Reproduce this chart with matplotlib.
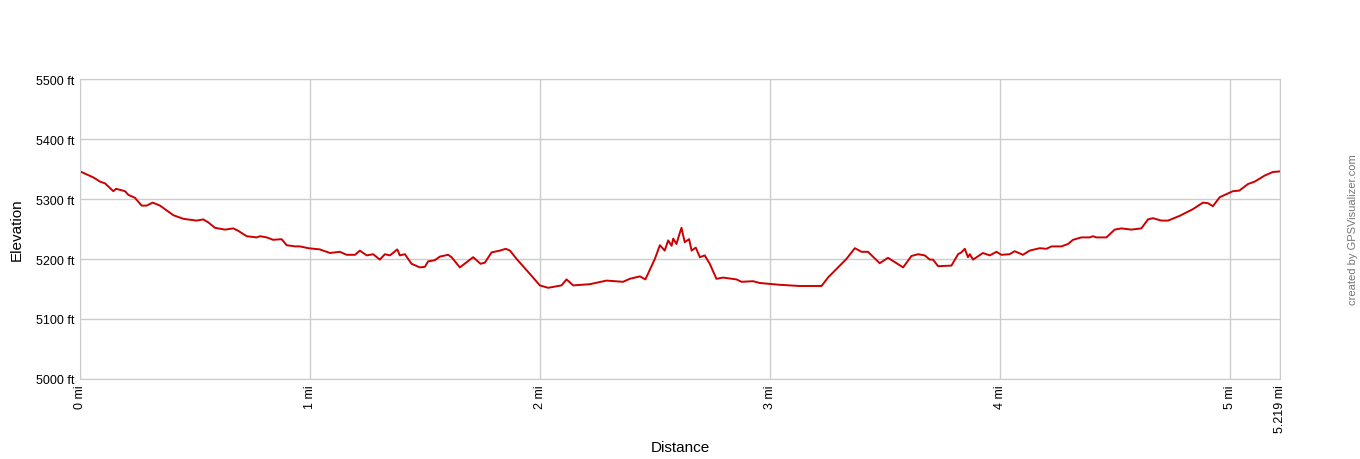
import matplotlib
matplotlib.use('Agg')
import matplotlib.pyplot as plt

plt.rcParams['font.family'] = ['Liberation Sans', 'DejaVu Sans']

# distance (mi) and elevation (ft)
dist = [0.000, 0.058, 0.087, 0.109, 0.145, 0.157, 0.196, 0.210, 0.239, 0.268,
        0.290, 0.316, 0.348, 0.406, 0.449, 0.507, 0.536, 0.558, 0.587, 0.630,
        0.667, 0.688, 0.725, 0.768, 0.783, 0.812, 0.840, 0.877, 0.899, 0.935,
        0.957, 0.993, 1.043, 1.087, 1.130, 1.160, 1.196, 1.217, 1.247, 1.275,
        1.304, 1.326, 1.348, 1.380, 1.391, 1.413, 1.442, 1.478, 1.500, 1.514,
        1.543, 1.565, 1.601, 1.616, 1.652, 1.710, 1.742, 1.761, 1.790, 1.826,
        1.852, 1.870, 1.899, 1.957, 2.000, 2.036, 2.094, 2.116, 2.145, 2.217,
        2.290, 2.362, 2.391, 2.435, 2.459, 2.500, 2.522, 2.543, 2.558, 2.573,
        2.580, 2.594, 2.609, 2.616, 2.630, 2.649, 2.660, 2.678, 2.696, 2.717,
        2.739, 2.753, 2.768, 2.797, 2.855, 2.877, 2.927, 2.957, 3.043, 3.130,
        3.225, 3.253, 3.333, 3.370, 3.399, 3.427, 3.478, 3.514, 3.580, 3.616,
        3.645, 3.674, 3.696, 3.710, 3.732, 3.790, 3.819, 3.833, 3.848, 3.862,
        3.870, 3.884, 3.927, 3.957, 3.986, 4.007, 4.043, 4.065, 4.101, 4.130,
        4.174, 4.203, 4.225, 4.268, 4.297, 4.319, 4.355, 4.391, 4.406, 4.420,
        4.464, 4.500, 4.529, 4.572, 4.616, 4.645, 4.667, 4.703, 4.732, 4.783,
        4.840, 4.884, 4.906, 4.927, 4.957, 5.014, 5.042, 5.080, 5.109, 5.152,
        5.188, 5.219]
elev = [5346, 5336, 5329, 5326, 5313, 5317, 5313, 5307, 5302, 5289,
        5289, 5294, 5289, 5273, 5267, 5264, 5266, 5261, 5252, 5249,
        5251, 5247, 5238, 5236, 5238, 5236, 5232, 5233, 5223, 5221,
        5221, 5218, 5216, 5210, 5212, 5207, 5207, 5214, 5206, 5208,
        5199, 5208, 5206, 5216, 5206, 5208, 5192, 5186, 5187, 5196,
        5198, 5204, 5207, 5203, 5186, 5203, 5192, 5194, 5211, 5214,
        5217, 5214, 5200, 5175, 5156, 5152, 5156, 5166, 5156, 5158,
        5164, 5162, 5167, 5171, 5166, 5200, 5223, 5214, 5231, 5222,
        5234, 5225, 5244, 5252, 5228, 5233, 5214, 5219, 5203, 5206,
        5192, 5180, 5167, 5169, 5166, 5162, 5163, 5160, 5157, 5155,
        5155, 5169, 5200, 5218, 5212, 5212, 5193, 5202, 5186, 5205,
        5208, 5206, 5199, 5199, 5188, 5189, 5208, 5211, 5217, 5203,
        5208, 5199, 5210, 5206, 5212, 5207, 5208, 5213, 5207, 5214,
        5218, 5217, 5221, 5221, 5225, 5232, 5236, 5236, 5238, 5236,
        5236, 5249, 5251, 5249, 5251, 5266, 5268, 5264, 5264, 5272,
        5283, 5294, 5293, 5288, 5303, 5313, 5314, 5325, 5329, 5339,
        5345, 5346]

x_ticks = [0, 1, 2, 3, 4, 5, 5.219]
x_labels = ['0 mi', '1 mi', '2 mi', '3 mi', '4 mi', '5 mi', '5.219 mi']
y_ticks = [5000, 5100, 5200, 5300, 5400, 5500]
y_labels = ['%d ft' % v for v in y_ticks]

fig = plt.figure(figsize=(13.6, 4.6), dpi=100)
ax = fig.add_axes([80 / 1360, 80 / 460, 1200 / 1360, 300 / 460])

ax.plot(dist, elev, color='#cc0000', linewidth=1.4)

ax.set_xlim(0, 5.219)
ax.set_ylim(5000, 5500)
ax.set_xticks(x_ticks)
ax.set_xticklabels(x_labels, rotation=90, fontsize=9)
ax.set_yticks(y_ticks)
ax.set_yticklabels(y_labels, fontsize=9)
ax.tick_params(length=0, pad=4)
ax.grid(True, color='#cccccc', linewidth=1)
for s in ax.spines.values():
    s.set_color('#cccccc')

fig.text(17 / 1360, 1 - 230 / 460, 'Elevation', rotation=90, fontsize=11,
         ha='center', va='center')
fig.text(680 / 1360, 1 - 448 / 460, 'Distance', fontsize=11,
         ha='center', va='center')
fig.text(1353 / 1360, 1 - 230 / 460, 'created by GPSVisualizer.com', rotation=90,
         fontsize=8, color='#777777', ha='center', va='center')

fig.savefig('out.png', dpi=100)
